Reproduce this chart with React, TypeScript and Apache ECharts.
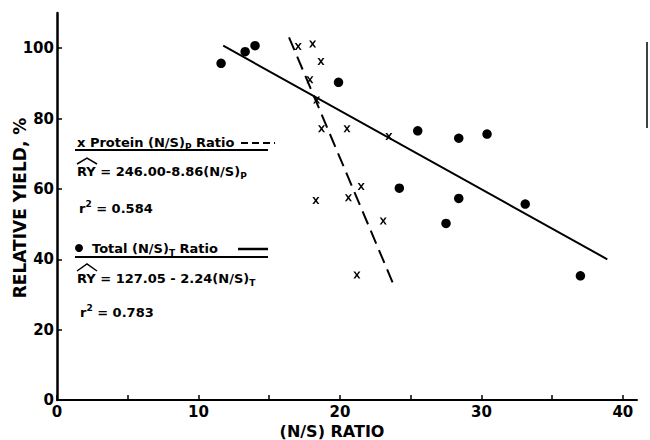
import React, { useEffect, useRef } from "react";
import * as echarts from "echarts";

// Total (N/S)T ratio observations (dots)
const totalRatio = [11.6, 13.3, 14.0, 19.9, 25.5, 28.4, 30.4, 24.2, 28.4, 27.5, 33.1, 37.0];
const totalYield = [95.7, 99.0, 100.7, 90.3, 76.5, 74.4, 75.6, 60.2, 57.3, 50.2, 55.7, 35.3];

// Protein (N/S)P ratio observations (x marks)
const proteinRatio = [17.05, 18.07, 18.66, 17.88, 18.35, 18.7, 20.5, 23.46, 21.5, 20.6, 18.3, 23.06, 21.2];
const proteinYield = [100.5, 101.2, 96.2, 91.0, 85.3, 77.1, 77.1, 74.9, 60.7, 57.5, 56.7, 50.9, 35.5];

// Fitted lines (end points as drawn)
const totalFitX = [11.75, 38.9];
const totalFitY = [100.7, 40.0];
const proteinFitX = [16.4, 23.8];
const proteinFitY = [103.1, 32.7];

// Axis ticks / labels
const xTicks = [0, 5, 10, 15, 20, 25, 30, 35, 40];
const xLabels = [0, 10, 20, 30, 40];
const yTicks = [20, 40, 60, 80, 100];
const yLabels = [0, 20, 40, 60, 80, 100];

const BOLD_AXIS = "DejaVu Sans";
const LEG_FONT = "DejaVu Sans";

const X_PATH =
  "path://M0,0 L2.6,0 L5,3.3 L7.4,0 L10,0 L6.4,5 L10,10 L7.4,10 L5,6.7 L2.6,10 L0,10 L3.6,5 Z";

const richBase = {
  n: { fontSize: 13, fontWeight: "bold", fontFamily: LEG_FONT, lineHeight: 18, fill: "#000" },
  s: { fontSize: 9, fontWeight: "bold", fontFamily: LEG_FONT, lineHeight: 10, verticalAlign: "bottom", fill: "#000" },
  u: { fontSize: 9, fontWeight: "bold", fontFamily: LEG_FONT, lineHeight: 10, verticalAlign: "top", fill: "#000" },
};

function txt(x: number, y: number, text: string) {
  return {
    type: "text",
    x,
    y,
    style: { text, rich: richBase, verticalAlign: "middle", align: "left", fill: "#000" },
  };
}

export default function App() {
  const ref = useRef<HTMLDivElement>(null);
  useEffect(() => {
    if (!ref.current) return;
    const chart = echarts.init(ref.current, null, { renderer: "svg" });
    const option = {
      animation: false,
      backgroundColor: "#fff",
      grid: { left: 57, right: 13, top: 13, bottom: 40, containLabel: false },
      xAxis: {
        type: "value",
        min: 0,
        max: 41,
        interval: 5,
        splitLine: { show: false },
        axisLine: { show: true, onZero: false, lineStyle: { color: "#000", width: 2 } },
        axisTick: { show: true, inside: true, length: 5, customValues: xTicks, lineStyle: { color: "#000", width: 1.5 } },
        axisLabel: {
          customValues: xLabels,
          color: "#000",
          fontFamily: BOLD_AXIS,
          fontWeight: "bold",
          fontSize: 15,
          margin: 4,
        },
      },
      yAxis: {
        type: "value",
        min: 0,
        max: 110,
        interval: 10,
        splitLine: { show: false },
        axisLine: { show: true, onZero: false, lineStyle: { color: "#000", width: 2.5 } },
        axisTick: { show: true, inside: true, length: 5, customValues: yTicks, lineStyle: { color: "#000", width: 1.5 } },
        axisLabel: {
          customValues: yLabels,
          color: "#000",
          fontFamily: BOLD_AXIS,
          fontWeight: "bold",
          fontSize: 15,
          margin: 3,
        },
      },
      series: [
        {
          type: "line",
          data: totalFitX.map((x, i) => [x, totalFitY[i]]),
          symbol: "none",
          lineStyle: { color: "#000", width: 2 },
          z: 2,
        },
        {
          type: "line",
          data: proteinFitX.map((x, i) => [x, proteinFitY[i]]),
          symbol: "none",
          lineStyle: { color: "#000", width: 2, type: [14, 7] },
          z: 2,
        },
        {
          type: "scatter",
          data: totalRatio.map((x, i) => [x, totalYield[i]]),
          symbol: "circle",
          symbolSize: 9.5,
          itemStyle: { color: "#000", opacity: 1 },
          z: 3,
        },
        {
          type: "scatter",
          data: proteinRatio.map((x, i) => [x, proteinYield[i]]),
          symbol: X_PATH,
          symbolSize: 7,
          itemStyle: { color: "#000", opacity: 1 },
          z: 3,
        },
      ],
      graphic: [
        {
          type: "text",
          x: 20,
          y: 208,
          rotation: Math.PI / 2,
          style: {
            text: "RELATIVE YIELD, %",
            font: `bold 17px "${BOLD_AXIS}"`,
            fill: "#000",
            align: "center",
            verticalAlign: "middle",
          },
        },
        {
          type: "text",
          x: 332,
          y: 431,
          style: {
            text: "(N/S) RATIO",
            font: `bold 16px "${BOLD_AXIS}"`,
            fill: "#000",
            align: "center",
            verticalAlign: "middle",
          },
        },
        // Protein legend block
        txt(77, 142, "{n|x Protein (N/S)}{s|P}{n| Ratio}"),
        { type: "line", shape: { x1: 241, y1: 143, x2: 275, y2: 143 }, style: { stroke: "#000", lineWidth: 2, lineDash: [7, 4] } },
        { type: "line", shape: { x1: 75, y1: 150, x2: 268, y2: 150 }, style: { stroke: "#000", lineWidth: 2 } },
        txt(77, 171, "{n|RY = 246.00-8.86(N/S)}{s|P}"),
        { type: "polyline", shape: { points: [[77, 164], [87, 158], [97, 164]] }, style: { stroke: "#000", lineWidth: 1.5, fill: null } },
        txt(79, 208, "{n|r}{u|2}{n| = 0.584}"),
        // Total legend block
        { type: "circle", shape: { cx: 79, cy: 248, r: 4 }, style: { fill: "#000" } },
        txt(92, 248, "{n|Total (N/S)}{s|T}{n| Ratio}"),
        { type: "line", shape: { x1: 238, y1: 249, x2: 268, y2: 249 }, style: { stroke: "#000", lineWidth: 2.5 } },
        { type: "line", shape: { x1: 75, y1: 257, x2: 268, y2: 257 }, style: { stroke: "#000", lineWidth: 2 } },
        txt(77, 278, "{n|RY = 127.05 - 2.24(N/S)}{s|T}"),
        { type: "polyline", shape: { points: [[77, 271], [87, 264], [97, 271]] }, style: { stroke: "#000", lineWidth: 1.5, fill: null } },
        txt(80, 312, "{n|r}{u|2}{n| = 0.783}"),
        // scan edge marks on the right
        { type: "line", shape: { x1: 647, y1: 42, x2: 647, y2: 128 }, style: { stroke: "#000", lineWidth: 1.5 } },
      ],
    };
    chart.setOption(option as any);
    return () => chart.dispose();
  }, []);
  return (
    <div
      ref={ref}
      style={{ position: "fixed", left: 0, top: 0, width: 650, height: 440, background: "#fff" }}
    />
  );
}
